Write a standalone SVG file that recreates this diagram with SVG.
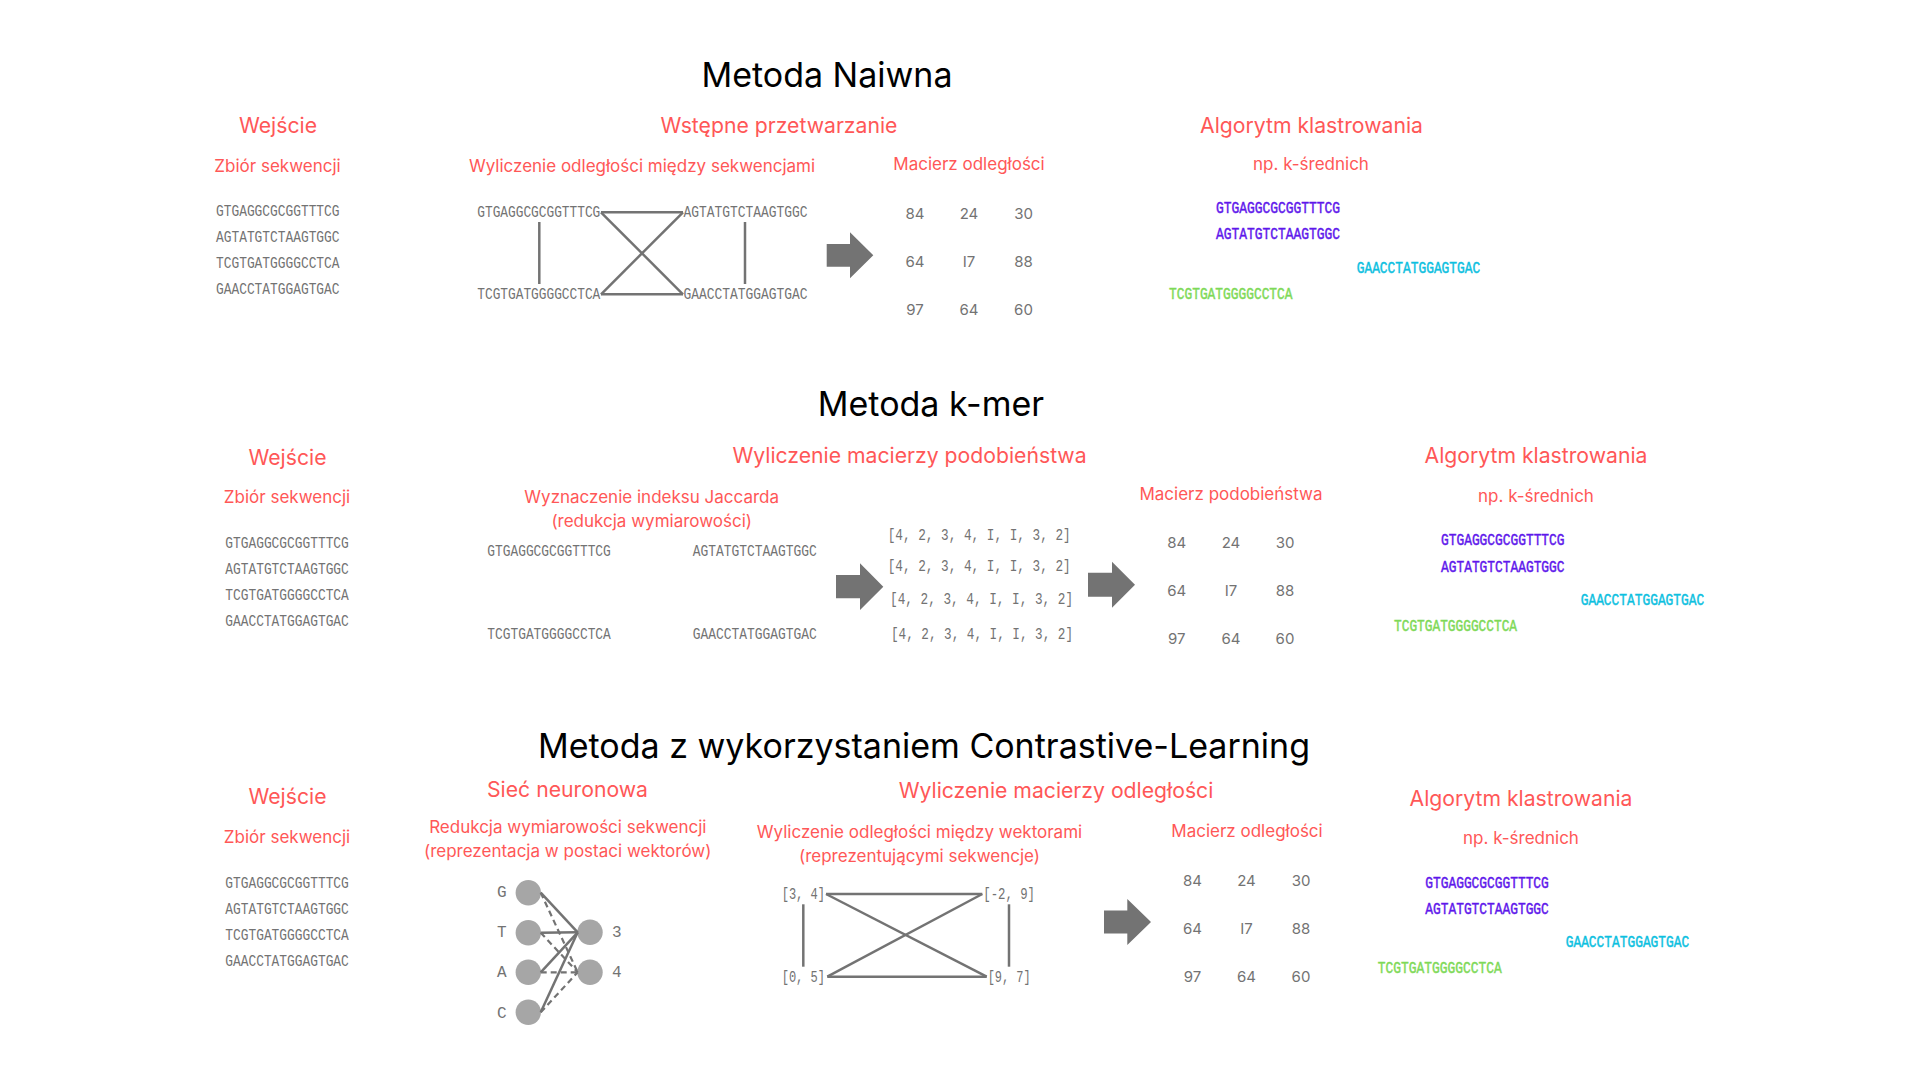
<svg xmlns="http://www.w3.org/2000/svg" width="1920" height="1080" viewBox="0 0 1920 1080">
<style>
.title{font-family:Inter,"Liberation Sans",sans-serif;font-size:34px;fill:#000;text-anchor:middle}
.h{font-family:Inter,"Liberation Sans",sans-serif;font-size:21.2px;fill:#FF5757;text-anchor:middle}
.s{font-family:Inter,"Liberation Sans",sans-serif;font-size:17px;fill:#FF5757;text-anchor:middle}
.seq{font-family:"Liberation Mono","DejaVu Sans Mono",monospace;font-size:16px;fill:#737373}
.vec{font-family:"Liberation Mono","DejaVu Sans Mono",monospace;font-size:16px;fill:#737373}
.num{font-family:Inter,"Liberation Sans",sans-serif;font-size:15px;fill:#737373;text-anchor:middle}
.p{fill:#5E17EB;stroke:#5E17EB;stroke-width:0.45}
.c{fill:#0CC0DF;stroke:#0CC0DF;stroke-width:0.45}
.g{fill:#7ED957;stroke:#7ED957;stroke-width:0.45}
.ln{stroke:#737373;stroke-width:2.5;fill:none}
.dash{stroke:#737373;stroke-width:2.2;fill:none;stroke-dasharray:6 4}
.arrow{fill:#737373}
.nn{fill:#A6A6A6}
</style>
<rect width="1920" height="1080" fill="#FFFFFF"/>

<!-- Section 1 -->
<g id="title-naive"><text class="title" x="827" y="87">Metoda Naiwna</text></g>
<g id="n1-input">
<text class="h" x="278" y="133">Wejście</text>
<text class="s" x="277.5" y="172">Zbiór sekwencji</text>
<text class="seq" x="216" y="216" textLength="123.5" lengthAdjust="spacingAndGlyphs">GTGAGGCGCGGTTTCG</text>
<text class="seq" x="216" y="242" textLength="123.5" lengthAdjust="spacingAndGlyphs">AGTATGTCTAAGTGGC</text>
<text class="seq" x="216" y="268" textLength="123.5" lengthAdjust="spacingAndGlyphs">TCGTGATGGGGCCTCA</text>
<text class="seq" x="216" y="294" textLength="123.5" lengthAdjust="spacingAndGlyphs">GAACCTATGGAGTGAC</text>
</g>
<g id="n1-preprocessing">
<text class="h" x="779" y="133">Wstępne przetwarzanie</text>
<text class="s" x="642" y="172">Wyliczenie odległości między sekwencjami</text>
<text class="seq" x="477.3" y="217" textLength="123" lengthAdjust="spacingAndGlyphs">GTGAGGCGCGGTTTCG</text>
<text class="seq" x="683.5" y="217" textLength="124" lengthAdjust="spacingAndGlyphs">AGTATGTCTAAGTGGC</text>
<text class="seq" x="477.3" y="299" textLength="123" lengthAdjust="spacingAndGlyphs">TCGTGATGGGGCCTCA</text>
<text class="seq" x="683.5" y="299" textLength="124" lengthAdjust="spacingAndGlyphs">GAACCTATGGAGTGAC</text>
</g>
<g id="n1-matrix">
<text class="s" x="969" y="170">Macierz odległości</text>
<text class="num" x="915" y="219">84</text><text class="num" x="969" y="219">24</text><text class="num" x="1023.5" y="219">30</text>
<text class="num" x="915" y="267">64</text><text class="num" x="969" y="267">I7</text><text class="num" x="1023.5" y="267">88</text>
<text class="num" x="915" y="315">97</text><text class="num" x="969" y="315">64</text><text class="num" x="1023.5" y="315">60</text>
</g>
<g id="n1-clustering">
<text class="h" x="1311.5" y="133">Algorytm klastrowania</text>
<text class="s" x="1311" y="170">np. k-średnich</text>
<text class="seq p" x="1216" y="213" textLength="124" lengthAdjust="spacingAndGlyphs">GTGAGGCGCGGTTTCG</text>
<text class="seq p" x="1216" y="239" textLength="124" lengthAdjust="spacingAndGlyphs">AGTATGTCTAAGTGGC</text>
<text class="seq c" x="1356.7" y="273" textLength="123.5" lengthAdjust="spacingAndGlyphs">GAACCTATGGAGTGAC</text>
<text class="seq g" x="1169" y="299" textLength="123.5" lengthAdjust="spacingAndGlyphs">TCGTGATGGGGCCTCA</text>
</g>

<!-- Section 2 -->
<g id="title-kmer"><text class="title" x="931" y="416">Metoda k-mer</text></g>
<g id="n2-input">
<text class="h" x="287.5" y="465">Wejście</text>
<text class="s" x="287" y="503">Zbiór sekwencji</text>
<text class="seq" x="225.3" y="548" textLength="123.5" lengthAdjust="spacingAndGlyphs">GTGAGGCGCGGTTTCG</text>
<text class="seq" x="225.3" y="574" textLength="123.5" lengthAdjust="spacingAndGlyphs">AGTATGTCTAAGTGGC</text>
<text class="seq" x="225.3" y="600" textLength="123.5" lengthAdjust="spacingAndGlyphs">TCGTGATGGGGCCTCA</text>
<text class="seq" x="225.3" y="626" textLength="123.5" lengthAdjust="spacingAndGlyphs">GAACCTATGGAGTGAC</text>
</g>
<g id="n2-similarity">
<text class="h" x="909.5" y="463">Wyliczenie macierzy podobieństwa</text>
<text class="s" x="651.7" y="503">Wyznaczenie indeksu Jaccarda</text>
<text class="s" x="651.7" y="527">(redukcja wymiarowości)</text>
<text class="seq" x="487.3" y="556" textLength="123.5" lengthAdjust="spacingAndGlyphs">GTGAGGCGCGGTTTCG</text>
<text class="seq" x="692.7" y="556" textLength="124" lengthAdjust="spacingAndGlyphs">AGTATGTCTAAGTGGC</text>
<text class="seq" x="487.3" y="639" textLength="123.5" lengthAdjust="spacingAndGlyphs">TCGTGATGGGGCCTCA</text>
<text class="seq" x="692.7" y="639" textLength="124" lengthAdjust="spacingAndGlyphs">GAACCTATGGAGTGAC</text>
</g>
<g id="n2-vectors">
<text class="vec" x="887.7" y="539.5" textLength="183" lengthAdjust="spacingAndGlyphs">[4, 2, 3, 4, I, I, 3, 2]</text>
<text class="vec" x="887.7" y="571" textLength="183" lengthAdjust="spacingAndGlyphs">[4, 2, 3, 4, I, I, 3, 2]</text>
<text class="vec" x="890" y="604" textLength="183" lengthAdjust="spacingAndGlyphs">[4, 2, 3, 4, I, I, 3, 2]</text>
<text class="vec" x="891" y="638.5" textLength="182" lengthAdjust="spacingAndGlyphs">[4, 2, 3, 4, I, I, 3, 2]</text>
</g>
<g id="n2-matrix">
<text class="s" x="1231" y="500">Macierz podobieństwa</text>
<text class="num" x="1176.7" y="548">84</text><text class="num" x="1231" y="548">24</text><text class="num" x="1285" y="548">30</text>
<text class="num" x="1176.7" y="596">64</text><text class="num" x="1231" y="596">I7</text><text class="num" x="1285" y="596">88</text>
<text class="num" x="1176.7" y="644">97</text><text class="num" x="1231" y="644">64</text><text class="num" x="1285" y="644">60</text>
</g>
<g id="n2-clustering">
<text class="h" x="1536" y="463">Algorytm klastrowania</text>
<text class="s" x="1536" y="502">np. k-średnich</text>
<text class="seq p" x="1441" y="545" textLength="123.5" lengthAdjust="spacingAndGlyphs">GTGAGGCGCGGTTTCG</text>
<text class="seq p" x="1441" y="572" textLength="123.5" lengthAdjust="spacingAndGlyphs">AGTATGTCTAAGTGGC</text>
<text class="seq c" x="1580.7" y="605" textLength="123.5" lengthAdjust="spacingAndGlyphs">GAACCTATGGAGTGAC</text>
<text class="seq g" x="1394" y="631" textLength="123" lengthAdjust="spacingAndGlyphs">TCGTGATGGGGCCTCA</text>
</g>

<!-- Section 3 -->
<g id="title-contrastive"><text class="title" x="924" y="758">Metoda z wykorzystaniem Contrastive-Learning</text></g>
<g id="n3-input">
<text class="h" x="287.5" y="804">Wejście</text>
<text class="s" x="287" y="843">Zbiór sekwencji</text>
<text class="seq" x="225.3" y="888" textLength="123.5" lengthAdjust="spacingAndGlyphs">GTGAGGCGCGGTTTCG</text>
<text class="seq" x="225.3" y="914" textLength="123.5" lengthAdjust="spacingAndGlyphs">AGTATGTCTAAGTGGC</text>
<text class="seq" x="225.3" y="940" textLength="123.5" lengthAdjust="spacingAndGlyphs">TCGTGATGGGGCCTCA</text>
<text class="seq" x="225.3" y="966" textLength="123.5" lengthAdjust="spacingAndGlyphs">GAACCTATGGAGTGAC</text>
</g>
<g id="n3-network">
<text class="h" x="567.5" y="797">Sieć neuronowa</text>
<text class="s" x="567.8" y="833">Redukcja wymiarowości sekwencji</text>
<text class="s" x="567.7" y="857">(reprezentacja w postaci wektorów)</text>
<text class="seq" x="501.7" y="897" text-anchor="middle">G</text>
<text class="seq" x="501.7" y="937" text-anchor="middle">T</text>
<text class="seq" x="501.7" y="977" text-anchor="middle">A</text>
<text class="seq" x="501.7" y="1017.5" text-anchor="middle">C</text>
<text class="seq" x="616.7" y="937" text-anchor="middle">3</text>
<text class="seq" x="616.7" y="977" text-anchor="middle">4</text>
</g>
<g id="n3-nn-nodes">
<circle class="nn" cx="528.3" cy="892.7" r="12.7"/>
<circle class="nn" cx="528.3" cy="932.7" r="12.7"/>
<circle class="nn" cx="528.3" cy="972.3" r="12.7"/>
<circle class="nn" cx="528.3" cy="1012.3" r="12.7"/>
<circle class="nn" cx="590" cy="932.3" r="12.7"/>
<circle class="nn" cx="590" cy="972.3" r="12.7"/>
</g>
<g id="n3-distance">
<text class="h" x="1056" y="798">Wyliczenie macierzy odległości</text>
<text class="s" x="919.5" y="838">Wyliczenie odległości między wektorami</text>
<text class="s" x="919.5" y="862">(reprezentującymi sekwencje)</text>
<text class="vec" x="781.7" y="899" textLength="43.3" lengthAdjust="spacingAndGlyphs">[3, 4]</text>
<text class="vec" x="983.3" y="899" textLength="51.7" lengthAdjust="spacingAndGlyphs">[-2, 9]</text>
<text class="vec" x="781.7" y="981.5" textLength="43.3" lengthAdjust="spacingAndGlyphs">[0, 5]</text>
<text class="vec" x="987.7" y="981.5" textLength="43" lengthAdjust="spacingAndGlyphs">[9, 7]</text>
</g>
<g id="n3-matrix">
<text class="s" x="1247" y="837">Macierz odległości</text>
<text class="num" x="1192.5" y="886">84</text><text class="num" x="1246.5" y="886">24</text><text class="num" x="1301" y="886">30</text>
<text class="num" x="1192.5" y="934">64</text><text class="num" x="1246.5" y="934">I7</text><text class="num" x="1301" y="934">88</text>
<text class="num" x="1192.5" y="981.5">97</text><text class="num" x="1246.5" y="981.5">64</text><text class="num" x="1301" y="981.5">60</text>
</g>
<g id="n3-clustering">
<text class="h" x="1521" y="806">Algorytm klastrowania</text>
<text class="s" x="1521" y="844">np. k-średnich</text>
<text class="seq p" x="1425.3" y="887.5" textLength="123.5" lengthAdjust="spacingAndGlyphs">GTGAGGCGCGGTTTCG</text>
<text class="seq p" x="1425.3" y="913.5" textLength="123.5" lengthAdjust="spacingAndGlyphs">AGTATGTCTAAGTGGC</text>
<text class="seq c" x="1565.7" y="947" textLength="123.5" lengthAdjust="spacingAndGlyphs">GAACCTATGGAGTGAC</text>
<text class="seq g" x="1377.7" y="973" textLength="124" lengthAdjust="spacingAndGlyphs">TCGTGATGGGGCCTCA</text>
</g>

<!-- Connectors -->
<g id="connectors">
<!-- section 1 distance graph -->
<line class="ln" x1="601" y1="212.3" x2="683" y2="212.3"/>
<line class="ln" x1="601" y1="294.3" x2="683" y2="294.3"/>
<line class="ln" x1="601" y1="212.3" x2="683" y2="294.3"/>
<line class="ln" x1="683" y1="212.3" x2="601" y2="294.3"/>
<line class="ln" x1="539.3" y1="222" x2="539.3" y2="284"/>
<line class="ln" x1="745" y1="222" x2="745" y2="284"/>
<polygon class="arrow" points="826.7,244 850,244 850,232.3 873.3,255.3 850,278.3 850,266.7 826.7,266.7"/>
<!-- section 2 arrows -->
<polygon class="arrow" points="836,575 860,575 860,563.3 883.3,586.7 860,610 860,598.3 836,598.3"/>
<polygon class="arrow" points="1088,572.7 1112,572.7 1112,561.7 1135,584.7 1112,607.7 1112,596.7 1088,596.7"/>
<!-- section 3 neural net -->
<line class="ln" x1="540.7" y1="892.7" x2="577.7" y2="932.3"/>
<line class="ln" x1="540.7" y1="932.7" x2="577.7" y2="932.3"/>
<line class="ln" x1="540.7" y1="972.3" x2="577.7" y2="932.3"/>
<line class="ln" x1="540.7" y1="1012.3" x2="577.7" y2="932.3"/>
<line class="dash" x1="540.7" y1="892.7" x2="577.7" y2="972.3"/>
<line class="dash" x1="540.7" y1="932.7" x2="577.7" y2="972.3"/>
<line class="dash" x1="540.7" y1="972.3" x2="577.7" y2="972.3"/>
<line class="dash" x1="540.7" y1="1012.3" x2="577.7" y2="972.3"/>
<!-- section 3 vector distance graph -->
<line class="ln" x1="826" y1="894" x2="982.3" y2="894"/>
<line class="ln" x1="827.3" y1="976.7" x2="986.7" y2="976.7"/>
<line class="ln" x1="826" y1="894" x2="986.7" y2="976.7"/>
<line class="ln" x1="982.3" y1="894" x2="827.3" y2="976.7"/>
<line class="ln" x1="803.3" y1="904.3" x2="803.3" y2="966.7"/>
<line class="ln" x1="1009" y1="904.3" x2="1009" y2="966.7"/>
<polygon class="arrow" points="1104,910.5 1127.3,910.5 1127.3,899 1151,922 1127.3,945 1127.3,933.5 1104,933.5"/>
</g>
</svg>
